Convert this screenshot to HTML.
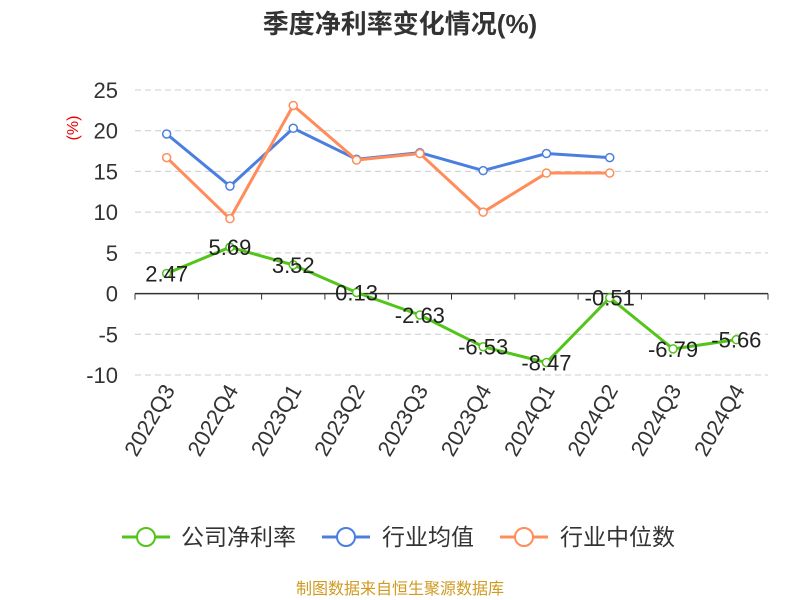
<!DOCTYPE html>
<html><head><meta charset="utf-8"><style>
body{margin:0;background:#fff;}
svg{display:block;font-family:"Liberation Sans","Noto Sans CJK SC",sans-serif;}
</style></head><body>
<svg id="chart" width="800" height="600">
<text x="400" y="33" text-anchor="middle" font-size="26" font-weight="bold" fill="#333">季度净利率变化情况(%)</text>
<text x="78" y="128" fill="#e00" font-size="16" transform="rotate(-90 78 128)" text-anchor="middle">(%)</text>
<g id="grid"></g><g id="axes"></g><g id="series"></g>
<g>
<g><line x1="122" y1="537" x2="170" y2="537" stroke="#52c41a" stroke-width="3"/><circle cx="146" cy="537" r="9" fill="#fff" stroke="#52c41a" stroke-width="2"/><text x="181" y="545" font-size="23" fill="#333">公司净利率</text></g>
<g><line x1="322" y1="537" x2="370" y2="537" stroke="#4a7fe0" stroke-width="3"/><circle cx="346" cy="537" r="9" fill="#fff" stroke="#4a7fe0" stroke-width="2"/><text x="382" y="545" font-size="23" fill="#333">行业均值</text></g>
<g><line x1="500" y1="537" x2="548" y2="537" stroke="#ff8c5a" stroke-width="3"/><circle cx="524" cy="537" r="9" fill="#fff" stroke="#ff8c5a" stroke-width="2"/><text x="560" y="545" font-size="23" fill="#333">行业中位数</text></g>
</g>
<text x="400" y="594" text-anchor="middle" font-size="16" fill="#d09a20">制图数据来自恒生聚源数据库</text>
</svg>
<script>
const categories=["2022Q3","2022Q4","2023Q1","2023Q2","2023Q3","2023Q4","2024Q1","2024Q2","2024Q3","2024Q4"];
const companyValues=[2.47,5.69,3.52,0.13,-2.63,-6.53,-8.47,-0.51,-6.79,-5.66];
const industryAvg=[19.6,13.2,20.3,16.5,17.3,15.1,17.2,16.7];
const industryMedian=[16.7,9.2,23.1,16.4,17.2,10.0,14.8,14.8];
const yTicks=[-10,-5,0,5,10,15,20,25];
const NS="http://www.w3.org/2000/svg";
const x0=135,x1=768,yTop=90,yBot=375,yMin=-10,yMax=25;
const bw=(x1-x0)/categories.length;
const xs=i=>x0+bw*(i+0.5);
const ys=v=>yBot-(v-yMin)/(yMax-yMin)*(yBot-yTop);
function mk(tag,attrs,parent){const e=document.createElementNS(NS,tag);for(const k in attrs)e.setAttribute(k,attrs[k]);parent.appendChild(e);return e;}
const grid=document.getElementById('grid'),axes=document.getElementById('axes'),ser=document.getElementById('series');
yTicks.forEach(t=>{
 if(t!==0){const l=mk('line',{x1:x0,x2:x1,y1:ys(t),y2:ys(t),stroke:'#ccc','stroke-dasharray':'6,4'},grid);
 
 }
 const tx=mk('text',{x:x0-17,y:ys(t)+8,'text-anchor':'end','font-size':22,fill:'#333'},axes);tx.textContent=t;
 
 
});
const xa=mk('line',{x1:x0,x2:x1,y1:ys(0),y2:ys(0),stroke:'#333','stroke-width':1.5},axes);


for(let i=0;i<=categories.length;i++){const t=mk('line',{x1:x0+bw*i,x2:x0+bw*i,y1:ys(0),y2:ys(0)+6,stroke:'#333'},axes);
 
 }
categories.forEach((c,i)=>{const x=xs(i)+9,y=390;
 const t=mk('text',{x:x,y:y,'text-anchor':'end','font-size':22,fill:'#333',transform:`rotate(-60 ${x} ${y})`},axes);t.textContent=c;
 
 });
function series(vals,color,name,labels){
 const g=mk('g',{},ser);
 
 
 mk('polyline',{points:vals.map((v,i)=>xs(i)+','+ys(v)).join(' '),fill:'none',stroke:color,'stroke-width':3},g);
 vals.forEach((v,i)=>{const c=mk('circle',{cx:xs(i),cy:ys(v),r:4,fill:'#fff',stroke:color,'stroke-width':1.5},g);
  
  
  if(labels){const t=mk('text',{x:xs(i),y:ys(v)+8,'text-anchor':'middle','font-size':22,fill:'#222'},g);t.textContent=v.toFixed(2);
   
   }
 });
}
series(industryAvg,'#4a7fe0','industry-avg-line',false);
series(industryMedian,'#ff8c5a','industry-median-line',false);
series(companyValues,'#52c41a','company-line',true);
</script>
</body></html>
